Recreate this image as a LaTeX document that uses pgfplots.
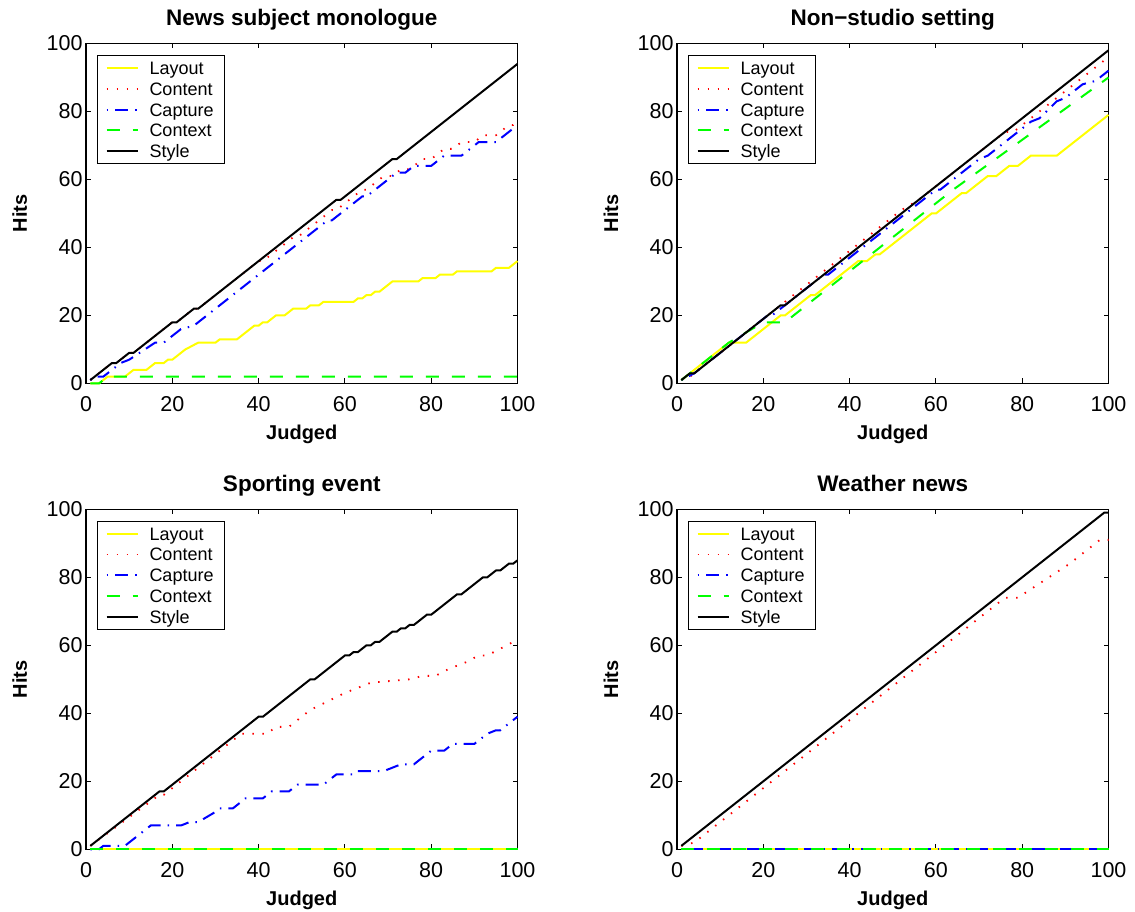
\documentclass[border=0pt]{standalone}
\usepackage{fontspec}
\setmainfont{Liberation Sans}
\usepackage{pgfplots}
\pgfplotsset{compat=1.18}
\definecolor{cYel}{rgb}{1,1,0}
\definecolor{cRed}{rgb}{1,0,0}
\definecolor{cBlu}{rgb}{0,0,1}
\definecolor{cGrn}{rgb}{0,1,0}
\pgfplotsset{
  mystyle/.style={
    scale only axis, width=431.5pt, height=340pt,
    xmin=0,xmax=100,ymin=0,ymax=100,
    xtick={0,20,...,100}, ytick={0,20,...,100},
    tick align=inside, xtick pos=both, ytick pos=both,
    major tick length=5pt,
    axis line style={line width=1.2pt},
    every tick/.style={black, line width=1pt},
    clip=false,
    /pgf/number format/assume math mode=true,
    tick label style={font=\fontsize{21.5}{21.5}\selectfont},
    xticklabel style={anchor=base, yshift=-28pt},
    title style={font=\fontsize{22.5}{22.5}\selectfont\bfseries, at={(axis description cs:0.5,1)}, anchor=base, yshift=11.5pt},
    xlabel={Judged}, ylabel={Hits},
    label style={font=\fontsize{20}{20}\selectfont\bfseries},
    xlabel style={at={(axis description cs:0.5,0)}, anchor=base, yshift=-56pt},
    ylabel style={at={(axis description cs:0,0.5)}, anchor=base, yshift=59pt},
    legend style={at={(axis description cs:0.0255,0.966)}, anchor=north west, draw=black, line width=1pt, fill=white,
      font=\fontsize{18}{18}\selectfont, inner xsep=8pt, inner ysep=5.8pt, row sep=8pt, column sep=8pt,
      nodes={inner xsep=3pt, inner ysep=0pt, text height=12.9pt, text depth=0pt}},
    legend cell align=left,
    legend image code/.code={\draw[##1] (0pt,0pt) -- (31pt,0pt);},
  },
  pLay/.style={color=cYel, line width=2pt, solid},
  pCon/.style={color=cRed, line width=1.8pt, dash pattern=on 1.5pt off 8.5pt},
  pCap/.style={color=cBlu, line width=2pt, dash pattern=on 1.5pt off 7pt on 13pt off 7pt},
  pCtx/.style={color=cGrn, line width=2pt, dash pattern=on 13pt off 13pt},
  pSty/.style={color=black, line width=2pt, solid},
}
\begin{document}
\begin{tikzpicture}
\path[use as bounding box] (0pt,0pt) rectangle (1135pt,912pt);
% Top left
\begin{axis}[mystyle, at={(86pt,528.5pt)}, anchor=south west, title={News subject monologue}]
\addplot[pLay] coordinates {(1,0)(3,0)(5,2)(9,2)(10,3)(11,4)(14,4)(16,6)(18,6)(19,7)(20,7)(23,10)(26,12)(30,12)(31,13)(35,13)(39,17)(40,17)(41,18)(42,18)(44,20)(46,20)(48,22)(51,22)(52,23)(54,23)(55,24)(62,24)(63,25)(64,25)(65,26)(66,26)(67,27)(68,27)(71,30)(77,30)(78,31)(81,31)(82,32)(85,32)(86,33)(94,33)(95,34)(98,34)(100,36)};
\addplot[pCon] coordinates {(1,1)(6,6)(7,6)(10,9)(11,9)(20,18)(21,18)(25,22)(26,22)(40,36)(41,36)(48,43)(49,43)(57,51)(58,51)(64,57)(65,57)(69,61)(71,61)(73,63)(75,63)(78,66)(80,66)(83,69)(85,69)(87,71)(90,71)(92,73)(95,73)(98,76)(99,76)(100,77)};
\addplot[pCap] coordinates {(1,1)(2,2)(4,2)(8,6)(10,7)(16,12)(18,12)(22,16)(25,17)(33,25)(52,44)(56,48)(57,48)(64,55)(65,55)(66,56)(72,62)(74,62)(76,64)(80,64)(83,67)(87,67)(91,71)(95,71)(99,75)(100,75)};
\addplot[pCtx] coordinates {(1,0)(3,0)(5,2)(100,2)};
\addplot[pSty] coordinates {(1,1)(6,6)(7,6)(10,9)(11,9)(20,18)(21,18)(25,22)(26,22)(58,54)(59,54)(71,66)(72,66)(100,94)};
\legend{Layout,Content,Capture,Context,Style}
\end{axis}
% Top right
\begin{axis}[mystyle, at={(677pt,528.5pt)}, anchor=south west, title={Non−studio setting}]
\addplot[pLay] coordinates {(1,1)(12,12)(16,12)(24,20)(25,20)(31,26)(32,26)(42,36)(44,36)(46,38)(47,38)(59,50)(60,50)(66,56)(67,56)(72,61)(74,61)(77,64)(79,64)(82,67)(88,67)(100,79)};
\addplot[pCon] coordinates {(1,1)(3,2)(26,25)(52,51)(56,54)(76,74)(78,74)(100,96)};
\addplot[pCap] coordinates {(1,1)(4,3)(21,20)(22,20)(34,32)(35,32)(60,57)(61,57)(70,66)(72,67)(77,72)(79,74)(82,77)(84,78)(88,83)(90,84)(94,88)(97,89)(100,92)};
\addplot[pCtx] coordinates {(1,1)(12,12)(20,18)(25,18)(58,51)(64,57)(100,90)};
\addplot[pSty] coordinates {(1,1)(3,3)(4,3)(24,23)(25,23)(100,98)};
\legend{Layout,Content,Capture,Context,Style}
\end{axis}
% Bottom left
\begin{axis}[mystyle, at={(86pt,62.7pt)}, anchor=south west, title={Sporting event}]
\addplot[pLay] coordinates {(1,0)(100,0)};
\addplot[pCon] coordinates {(1,1)(17,16)(18,16)(35,33)(36,34)(42,34)(44,36)(47,36)(52,41)(60,46)(64,48)(66,49)(75,50)(78,51)(81,51)(84,53)(88,55)(91,57)(93,57)(99,61)(100,61)};
\addplot[pCap] coordinates {(1,0)(3,0)(4,1)(9,1)(15,7)(22,7)(24,8)(26,8)(30,11)(31,12)(34,12)(37,15)(41,15)(43,17)(47,17)(49,19)(55,19)(58,22)(62,22)(63,23)(69,23)(73,25)(76,25)(79,28)(80,29)(83,29)(85,31)(90,31)(93,34)(95,35)(96,35)(100,39)};
\addplot[pCtx] coordinates {(1,0)(100,0)};
\addplot[pSty] coordinates {(1,1)(17,17)(18,17)(40,39)(41,39)(52,50)(53,50)(60,57)(61,57)(62,58)(63,58)(65,60)(66,60)(67,61)(68,61)(71,64)(72,64)(73,65)(74,65)(75,66)(76,66)(79,69)(80,69)(86,75)(87,75)(92,80)(93,80)(95,82)(96,82)(98,84)(99,84)(100,85)};
\legend{Layout,Content,Capture,Context,Style}
\end{axis}
% Bottom right
\begin{axis}[mystyle, at={(677pt,62.7pt)}, anchor=south west, title={Weather news}]
\addplot[pLay] coordinates {(1,0)(100,0)};
\addplot[pCon] coordinates {(1,1)(4,2)(20,18)(60,58)(76,74)(79,74)(91,84)(98,91)(100,91)};
\addplot[pCap] coordinates {(1,0)(100,0)};
\addplot[pCtx] coordinates {(1,0)(100,0)};
\addplot[pSty] coordinates {(1,1)(99,99)(100,99)};
\legend{Layout,Content,Capture,Context,Style}
\end{axis}
\end{tikzpicture}
\end{document}
